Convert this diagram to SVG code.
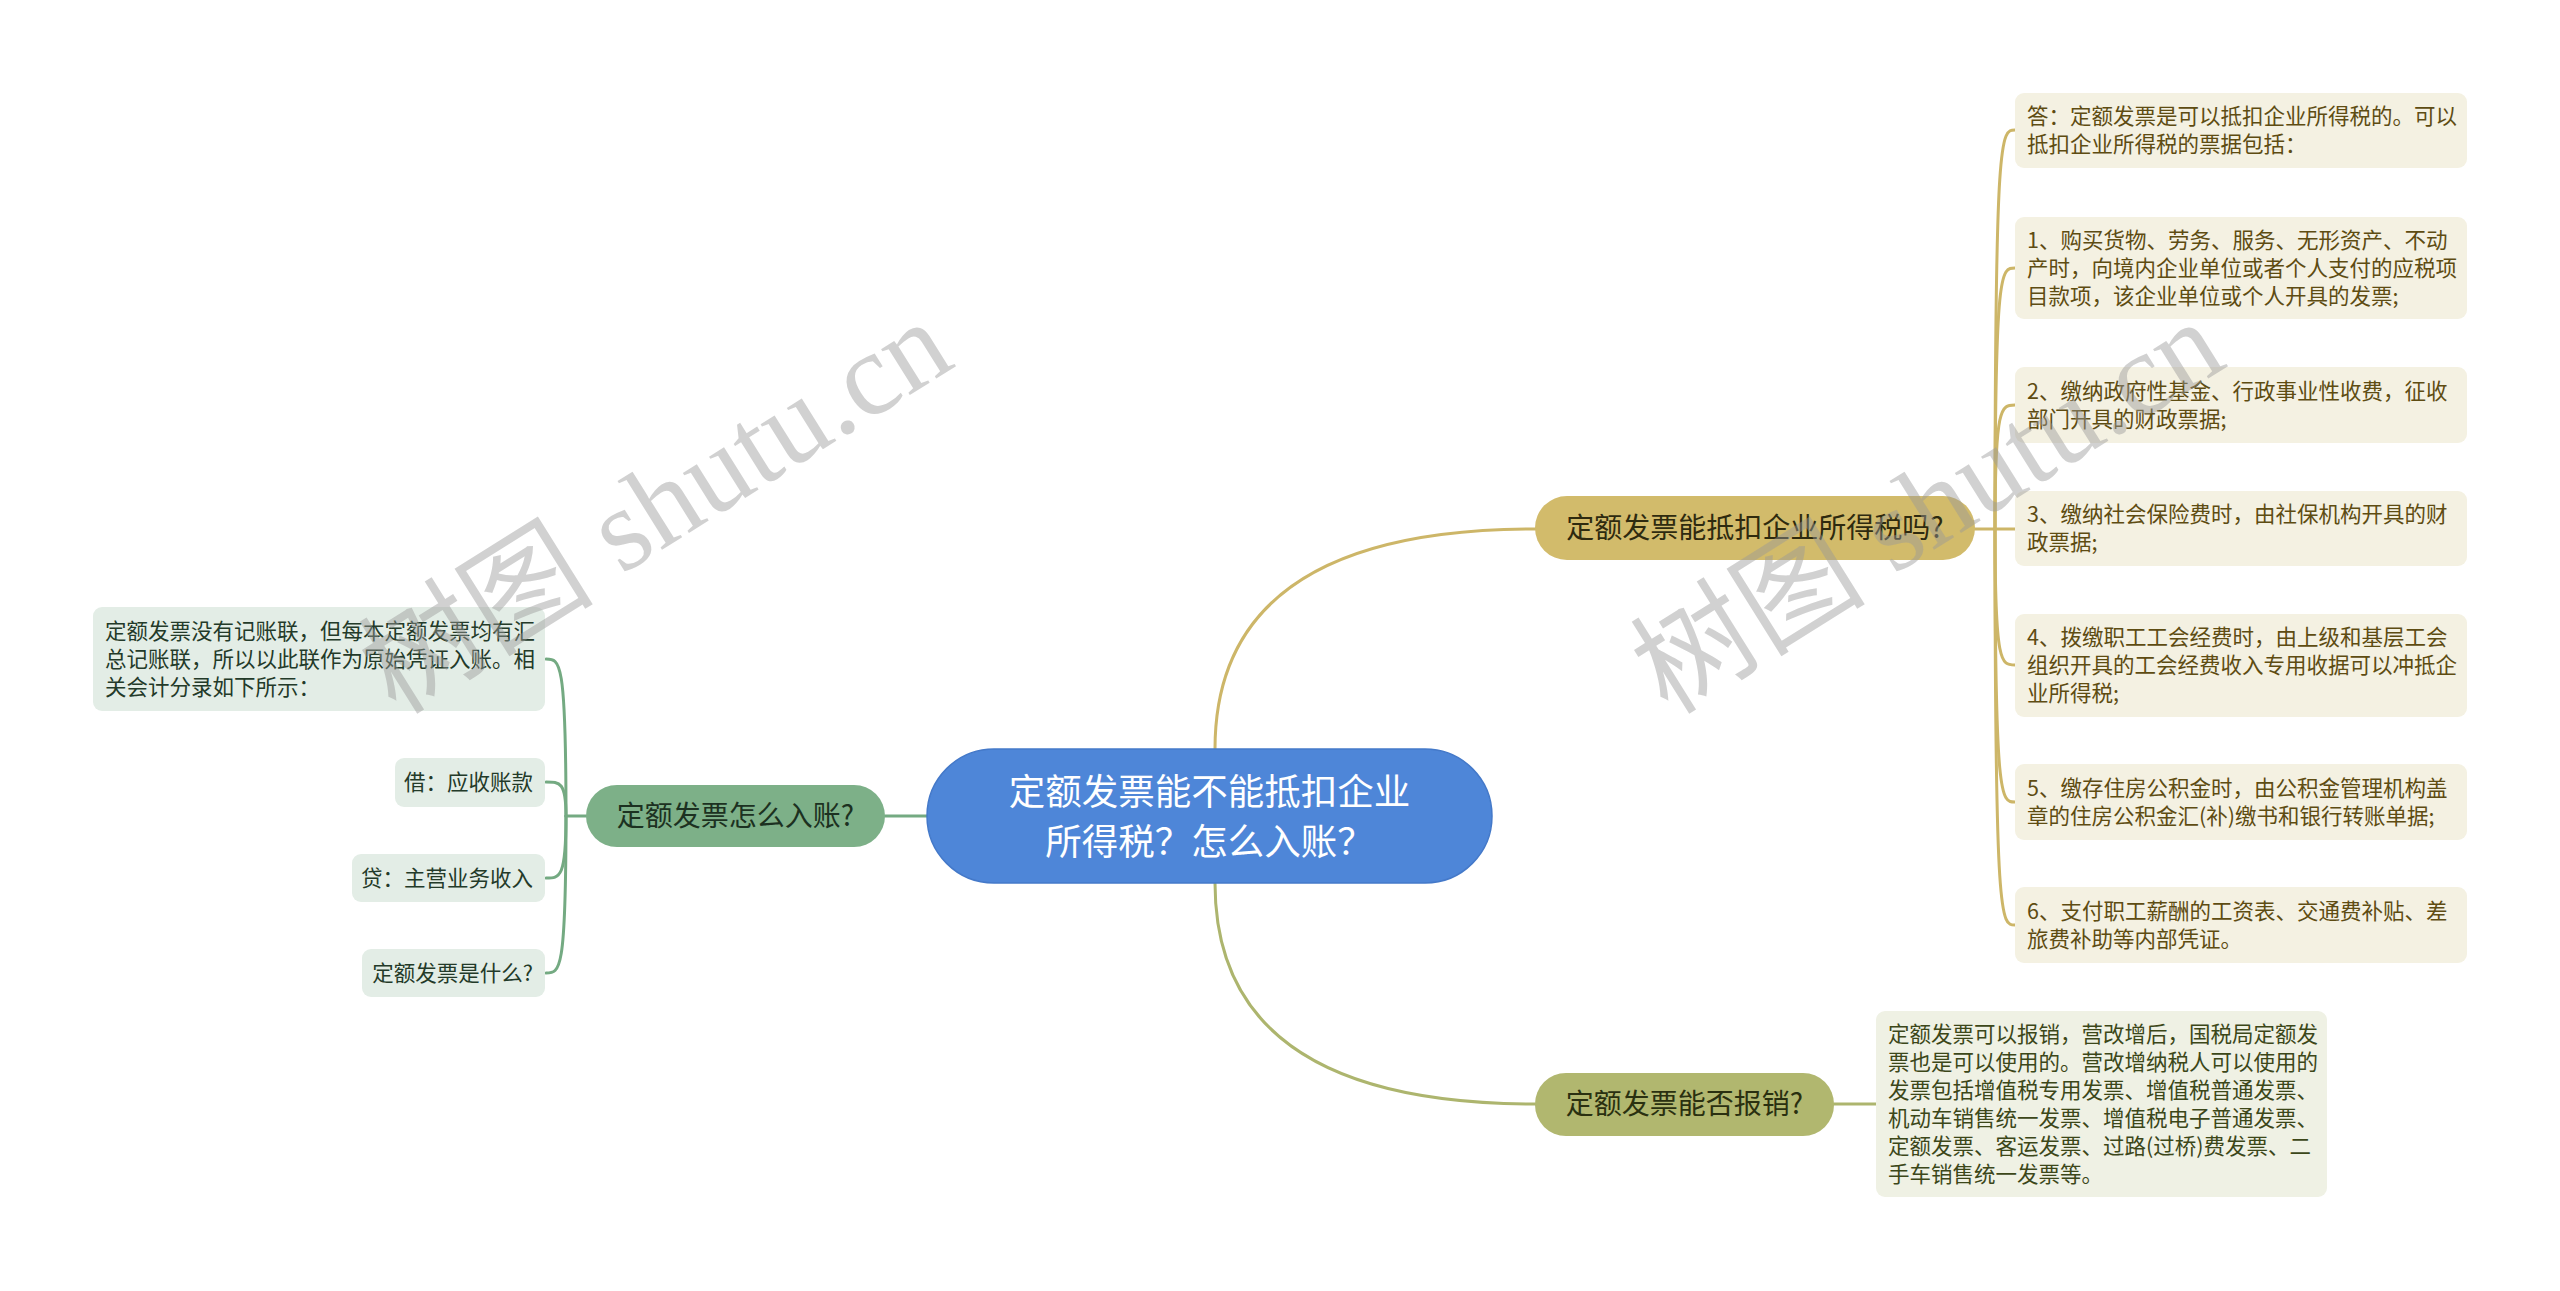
<svg xmlns="http://www.w3.org/2000/svg" width="2560" height="1291" viewBox="0 0 2560 1291">
<style>
text{font-family:"Noto Sans CJK SC","Noto Sans",sans-serif}
.c{fill:none;stroke-linecap:round}
.cg{stroke:#cdb668;stroke-width:3}
.co{stroke:#adb56e;stroke-width:3}
.cn{stroke:#74aa82;stroke-width:3}
.lr{fill:#f4f1e2}
.lo{fill:#eff1e4}
.lg{fill:#e3ede6}
.tr{font-size:21.5px;fill:#5e4c12}
.to{font-size:21.5px;fill:#3c4719}
.tg{font-size:21.5px;fill:#233a29}
.mt{font-size:28px;text-anchor:middle}
.wm{font-family:"Liberation Serif","Noto Sans CJK SC",serif;font-size:118px;fill:#9a9a9a;fill-opacity:0.45}
</style>
<rect width="2560" height="1291" fill="#ffffff"/>
<g id="connectors">
<path class="c cg" d="M1215,749 Q1215,529 1535,529"/>
<path class="c co" d="M1215,883 Q1215,1104 1535,1104"/>
<path class="c cn" d="M927,816 L885,816"/>
<path class="c cg" d="M1975,529 L1995,529"/>
<path class="c cg" d="M1995,529 C1995,130 2001,130 2015,130"/>
<path class="c cg" d="M1995,529 C1995,268 2001,268 2015,268"/>
<path class="c cg" d="M1995,529 C1995,405 2001,405 2015,405"/>
<path class="c cg" d="M1995,529 L2015,529"/>
<path class="c cg" d="M1995,529 C1995,665 2001,665 2015,665"/>
<path class="c cg" d="M1995,529 C1995,802 2001,802 2015,802"/>
<path class="c cg" d="M1995,529 C1995,925 2001,925 2015,925"/>
<path class="c co" d="M1834,1104 L1876,1104"/>
<path class="c cn" d="M586,816 L566,816"/>
<path class="c cn" d="M566,816 C566,659 560,659 546,659"/>
<path class="c cn" d="M566,816 C566,782 560,782 546,782"/>
<path class="c cn" d="M566,816 C566,878 560,878 546,878"/>
<path class="c cn" d="M566,816 C566,973 560,973 546,973"/>
</g>
<g id="root">
<rect x="927" y="749" width="565" height="134" rx="67" fill="#4e86d8" stroke="#4479c9" stroke-width="1.5"/>
<text x="1209.5" y="805" font-size="36.5" fill="#ffffff" text-anchor="middle">定额发票能不能抵扣企业</text>
<text x="1209.5" y="855" font-size="36.5" fill="#ffffff" text-anchor="middle">所得税？怎么入账？</text>
</g>
<g id="b1">
<rect x="1535" y="496" width="440" height="64" rx="32" fill="#d2bb6b"/>
<text class="mt" x="1755" y="538" fill="#2e2a0f">定额发票能抵扣企业所得税吗?</text>
</g>
<g id="b2">
<rect x="1535" y="1073" width="299" height="63" rx="31" fill="#b1b76f"/>
<text class="mt" x="1684.5" y="1114" fill="#2a3010">定额发票能否报销?</text>
</g>
<g id="b3">
<rect x="586" y="785" width="299" height="62" rx="31" fill="#7db088"/>
<text class="mt" x="735.5" y="826" fill="#1c3121">定额发票怎么入账?</text>
</g>
<g id="r1">
<rect class="lr" x="2015" y="93" width="452" height="75" rx="9"/>
<text class="tr" x="2027" y="124">答：定额发票是可以抵扣企业所得税的。可以</text>
<text class="tr" x="2027" y="152">抵扣企业所得税的票据包括：</text>
</g>
<g id="r2">
<rect class="lr" x="2015" y="217" width="452" height="102" rx="9"/>
<text class="tr" x="2027" y="247.5">1、购买货物、劳务、服务、无形资产、不动</text>
<text class="tr" x="2027" y="275.5">产时，向境内企业单位或者个人支付的应税项</text>
<text class="tr" x="2027" y="303.5">目款项，该企业单位或个人开具的发票;</text>
</g>
<g id="r3">
<rect class="lr" x="2015" y="367" width="452" height="76" rx="9"/>
<text class="tr" x="2027" y="398.5">2、缴纳政府性基金、行政事业性收费，征收</text>
<text class="tr" x="2027" y="426.5">部门开具的财政票据;</text>
</g>
<g id="r4">
<rect class="lr" x="2015" y="491" width="452" height="75" rx="9"/>
<text class="tr" x="2027" y="522">3、缴纳社会保险费时，由社保机构开具的财</text>
<text class="tr" x="2027" y="550">政票据;</text>
</g>
<g id="r5">
<rect class="lr" x="2015" y="614" width="452" height="103" rx="9"/>
<text class="tr" x="2027" y="645">4、拨缴职工工会经费时，由上级和基层工会</text>
<text class="tr" x="2027" y="673">组织开具的工会经费收入专用收据可以冲抵企</text>
<text class="tr" x="2027" y="701">业所得税;</text>
</g>
<g id="r6">
<rect class="lr" x="2015" y="764" width="452" height="76" rx="9"/>
<text class="tr" x="2027" y="795.5">5、缴存住房公积金时，由公积金管理机构盖</text>
<text class="tr" x="2027" y="823.5">章的住房公积金汇(补)缴书和银行转账单据;</text>
</g>
<g id="r7">
<rect class="lr" x="2015" y="887" width="452" height="76" rx="9"/>
<text class="tr" x="2027" y="918.5">6、支付职工薪酬的工资表、交通费补贴、差</text>
<text class="tr" x="2027" y="946.5">旅费补助等内部凭证。</text>
</g>
<g id="o1">
<rect class="lo" x="1876" y="1011" width="451" height="186" rx="9"/>
<text class="to" x="1888" y="1041.5">定额发票可以报销，营改增后，国税局定额发</text>
<text class="to" x="1888" y="1069.5">票也是可以使用的。营改增纳税人可以使用的</text>
<text class="to" x="1888" y="1097.5">发票包括增值税专用发票、增值税普通发票、</text>
<text class="to" x="1888" y="1125.5">机动车销售统一发票、增值税电子普通发票、</text>
<text class="to" x="1888" y="1153.5">定额发票、客运发票、过路(过桥)费发票、二</text>
<text class="to" x="1888" y="1181.5">手车销售统一发票等。</text>
</g>
<g id="g1">
<rect class="lg" x="93" y="607" width="452" height="104" rx="9"/>
<text class="tg" x="105" y="638.5">定额发票没有记账联，但每本定额发票均有汇</text>
<text class="tg" x="105" y="666.5">总记账联，所以以此联作为原始凭证入账。相</text>
<text class="tg" x="105" y="694.5">关会计分录如下所示：</text>
</g>
<g id="g2">
<rect class="lg" x="395" y="758" width="150" height="49" rx="9"/>
<text class="tg" x="533" y="790" text-anchor="end">借：应收账款</text>
</g>
<g id="g3">
<rect class="lg" x="352" y="854" width="193" height="48" rx="9"/>
<text class="tg" x="533" y="885.5" text-anchor="end">贷：主营业务收入</text>
</g>
<g id="g4">
<rect class="lg" x="362" y="949" width="183" height="48" rx="9"/>
<text class="tg" x="533" y="980.5" text-anchor="end">定额发票是什么?</text>
</g>
<g id="watermarks">
<text class="wm" transform="translate(396,716) rotate(-32)">树图 shutu.cn</text>
<text class="wm" transform="translate(1668,716) rotate(-32)">树图 shutu.cn</text>
</g>
</svg>
